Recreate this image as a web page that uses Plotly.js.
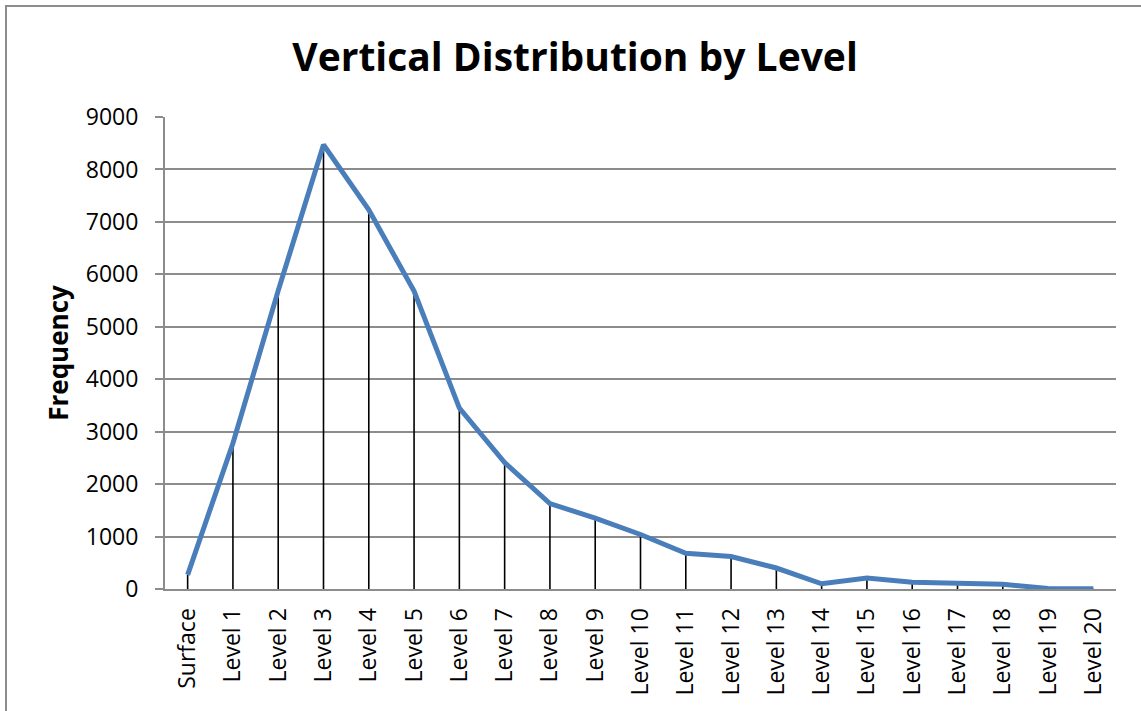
<!DOCTYPE html>
<html>
<head>
<meta charset="utf-8">
<script src="https://cdn.plot.ly/plotly-3.0.1.min.js"></script>
<style>
  html, body { margin: 0; padding: 0; background: #fff; overflow: hidden; }
  #chart { position: absolute; left: 0; top: 0; width: 1141px; height: 711px; }
  #frame { position: absolute; left: 5px; top: 5px; width: 1150px; height: 720px;
           border-left: 2px solid #8c8c8c; border-top: 2px solid #8c8c8c; pointer-events: none; }
</style>
</head>
<body>
<div id="chart"></div>
<div id="frame"></div>
<script>
const levels = ['Surface', 'Level 1', 'Level 2', 'Level 3', 'Level 4', 'Level 5', 'Level 6',
  'Level 7', 'Level 8', 'Level 9', 'Level 10', 'Level 11', 'Level 12', 'Level 13', 'Level 14',
  'Level 15', 'Level 16', 'Level 17', 'Level 18', 'Level 19', 'Level 20'];
const frequency = [270, 2780, 5690, 8470, 7230, 5680, 3450, 2410, 1630, 1350, 1040,
  680, 620, 400, 100, 210, 130, 115, 90, 10, 5];
const yTicks = [0, 1000, 2000, 3000, 4000, 5000, 6000, 7000, 8000, 9000];

const FONT = 'Open Sans, Lato, sans-serif';
const GRID = '#8c8c8c';

// drop lines (black stems from 0 up to each point), drawn under the blue line
const drops = {
  type: 'scatter', mode: 'markers', x: levels, y: frequency,
  marker: { size: 0, opacity: 0 },
  error_y: { type: 'data', symmetric: false, array: frequency.map(() => 0),
             arrayminus: frequency, color: '#000', thickness: 1.6, width: 0 },
  hoverinfo: 'skip', showlegend: false,
};
const line = {
  type: 'scatter', mode: 'lines', x: levels, y: frequency,
  line: { color: '#4a7ebb', width: 5 }, showlegend: false,
};

Plotly.newPlot('chart', [drops, line], {
  width: 1141, height: 711,
  paper_bgcolor: '#fff', plot_bgcolor: '#fff',
  margin: { l: 165, r: 25, t: 117, b: 122 },
  font: { family: FONT, color: '#000', size: 21 },
  title: {
    text: '<b>Vertical Distribution by Level</b>',
    font: { family: FONT, size: 39, color: '#000' },
    x: 0.504, xanchor: 'center', y: 1 - 57 / 711, yanchor: 'middle', yref: 'container',
  },
  xaxis: {
    type: 'category', range: [-0.5, 20.5], tickangle: -90,
    showgrid: false, zeroline: false, showline: true, linecolor: GRID, linewidth: 2,
    ticks: '', tickfont: { size: 23 }, ticklabelstandoff: 8,
  },
  yaxis: {
    range: [0, 9000], tickvals: yTicks, ticktext: yTicks.map(String),
    showgrid: true, gridcolor: GRID, gridwidth: 2, zeroline: false,
    showline: true, linecolor: GRID, linewidth: 2,
    ticks: 'outside', ticklen: 8, tickwidth: 2, tickcolor: GRID,
    tickfont: { size: 23 }, ticklabelstandoff: 12,
    title: { text: '<b>Frequency</b>', font: { size: 26 }, standoff: 10 },
  },
}, { displayModeBar: false, staticPlot: true });
</script>
</body>
</html>
